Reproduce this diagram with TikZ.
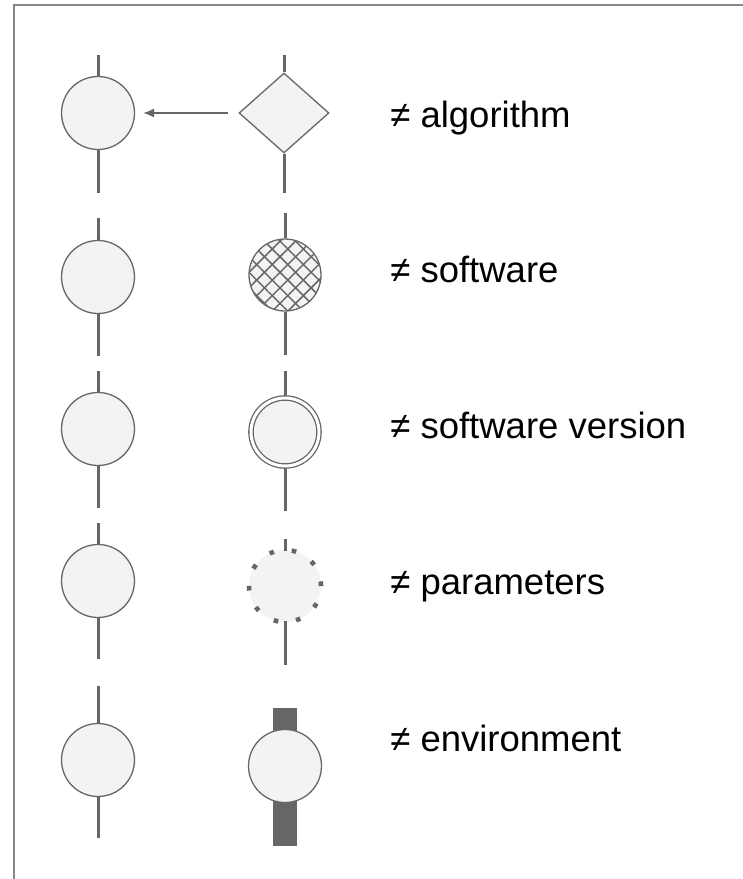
\documentclass[tikz,border=0pt]{standalone}
\usepackage{fontspec}
\setmainfont{Liberation Sans}
\usetikzlibrary{arrows.meta}
\usetikzlibrary{shapes.geometric}
\usetikzlibrary{patterns.meta}
\usetikzlibrary{backgrounds}
\tikzset{>=latex}
\definecolor{nodegray}{RGB}{243,243,243}
\definecolor{stemgray}{RGB}{102,102,102}
\definecolor{framegray}{RGB}{135,135,135}
\tikzstyle{stemline}=[draw=stemgray,line width=1.5pt]
\tikzstyle{envbar}=[draw=stemgray,line width=12pt]
\tikzstyle{arrowline}=[draw=stemgray,line width=0.65pt,-{Latex[length=5.5pt,width=4.5pt]}]
\tikzstyle{plaincircle}=[circle,draw=stemgray,fill=nodegray,line width=0.65pt,minimum size=36.5pt,inner sep=0pt]
\tikzstyle{algdiamond}=[diamond,draw=stemgray,fill=nodegray,line width=0.65pt,minimum width=45pt,minimum height=40pt,inner sep=0pt]
\tikzstyle{hatchcircle}=[plaincircle,fill=none,minimum size=36pt,
  preaction={fill=nodegray},
  preaction={pattern={Lines[angle=45,distance=5.5pt,line width=0.75pt]},pattern color=stemgray},
  preaction={pattern={Lines[angle=-45,distance=5.5pt,line width=0.75pt]},pattern color=stemgray}]
\tikzstyle{versioncircle}=[circle,draw=stemgray,double=white,double distance=1.5pt,line width=0.65pt,fill=nodegray,minimum size=34pt,inner sep=0pt,outer sep=1.4pt]
\tikzstyle{dotcircle}=[circle,draw=stemgray,fill=nodegray,line width=2.3pt,dash pattern=on 2.3pt off 9pt,minimum size=36pt,inner sep=0pt]
\tikzstyle{labeltext}=[anchor=base west,inner sep=0pt,font=\fontsize{18.25}{22}\selectfont]

\begin{document}
\begin{tikzpicture}[x=0.5pt,y=-0.5pt]
    \useasboundingbox (0,0) rectangle (743,879);
    \draw[framegray,line width=1pt] (14,879) -- (14,5) -- (743,5);

    % left column
    \node[plaincircle] (c1) at (98,113) {};
    \node[plaincircle] (c2) at (98,277) {};
    \node[plaincircle] (c3) at (98,429) {};
    \node[plaincircle] (c4) at (98,581) {};
    \node[plaincircle] (c5) at (98,760) {};
    \coordinate (c1t) at (98,55);  \coordinate (c1b) at (98,193);
    \coordinate (c2t) at (98,218); \coordinate (c2b) at (98,356);
    \coordinate (c3t) at (98,371); \coordinate (c3b) at (98,508);
    \coordinate (c4t) at (98,523); \coordinate (c4b) at (98,659);
    \coordinate (c5t) at (98,686); \coordinate (c5b) at (98,838);
    \draw[stemline] (c1t) -- (c1.north);
    \draw[stemline] (c1.south) -- (c1b);
    \draw[stemline] (c2t) -- (c2.north);
    \draw[stemline] (c2.south) -- (c2b);
    \draw[stemline] (c3t) -- (c3.north);
    \draw[stemline] (c3.south) -- (c3b);
    \draw[stemline] (c4t) -- (c4.north);
    \draw[stemline] (c4.south) -- (c4b);
    \draw[stemline] (c5t) -- (c5.north);
    \draw[stemline] (c5.south) -- (c5b);

    % right column
    \node[algdiamond] (r1) at (284,113) {};
    \node[hatchcircle] (r2) at (285,275) {};
    \node[versioncircle] (r3) at (285,432) {};
    \node[dotcircle] (r4) at (285,586) {};
    \node[plaincircle] (r5) at (285,766) {};
    \coordinate (r1t) at (284,55);  \coordinate (r1b) at (284,193);
    \coordinate (r2t) at (285,213); \coordinate (r2b) at (285,355);
    \coordinate (r3t) at (285,371); \coordinate (r3b) at (285,511);
    \coordinate (r4t) at (285,539); \coordinate (r4b) at (285,665);
    \coordinate (r5t) at (285,708); \coordinate (r5b) at (285,846);
    \draw[stemline] (r1t) -- (r1.north);
    \draw[stemline] (r1.south) -- (r1b);
    \draw[stemline] (r2t) -- (r2.north);
    \draw[stemline] (r2.south) -- (r2b);
    \draw[stemline] (r3t) -- (r3.north);
    \draw[stemline] (r3.south) -- (r3b);
    \draw[stemline] (r4t) -- ([yshift=-1.5pt]r4.north);
    \draw[stemline] ([yshift=1.5pt]r4.south) -- (r4b);
    \begin{pgfonlayer}{background}
      \draw[envbar] (r5t) -- (r5.center);
      \draw[envbar] (r5.center) -- (r5b);
    \end{pgfonlayer}

    \draw[arrowline,shorten <=5pt,shorten >=4pt] (r1.west) -- (c1.east);

    % labels
    \node[labeltext] (t1) at (390,127) {≠ algorithm};
    \node[labeltext] (t2) at (390,282) {≠ software};
    \node[labeltext] (t3) at (390,438) {≠ software version};
    \node[labeltext] (t4) at (390,594) {≠ parameters};
    \node[labeltext] (t5) at (390,751) {≠ environment};
\end{tikzpicture}
\end{document}
